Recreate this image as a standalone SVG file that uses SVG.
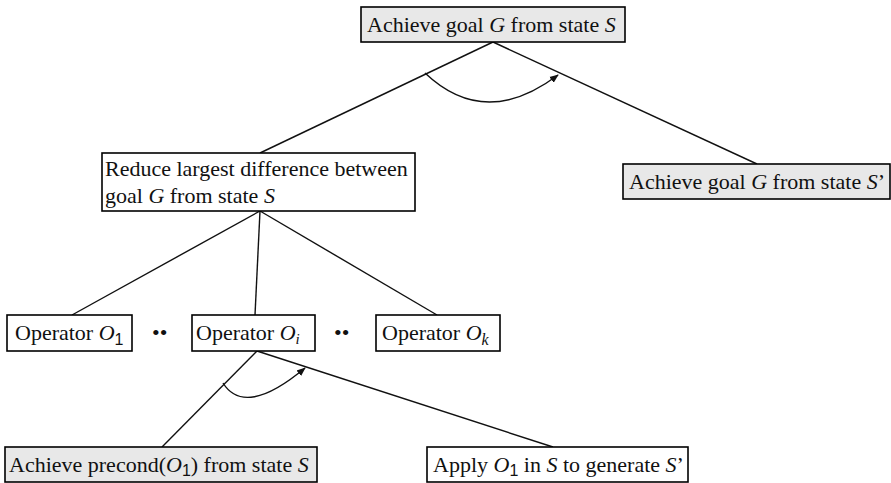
<svg xmlns="http://www.w3.org/2000/svg" width="891" height="483" viewBox="0 0 891 483">
<style>
.box{fill:#fff;stroke:#000;stroke-width:1.6}
.gray{fill:#e8e8e8}
.t{font-family:"Liberation Serif","Times New Roman",serif;font-size:22px;fill:#111}
.i{font-style:italic}
.sub{font-size:16px;font-family:"Liberation Sans",Arial,sans-serif}
.ln{stroke:#111;stroke-width:1.4;fill:none}
</style>
<defs>
<marker id="ah" viewBox="0 0 10 10" refX="9" refY="5" markerWidth="9" markerHeight="9" orient="auto-start-reverse" markerUnits="userSpaceOnUse">
<path d="M0,1 L10,5 L0,9 Z" fill="#111"/>
</marker>
</defs>
<g id="connectors">
<line class="ln" x1="493" y1="42" x2="260" y2="153"/>
<line class="ln" x1="493" y1="42" x2="757" y2="164"/>
<path class="ln" d="M425,73 Q485,130 558,75" marker-end="url(#ah)"/>
<line class="ln" x1="260" y1="211" x2="72" y2="315"/>
<line class="ln" x1="260" y1="211" x2="255" y2="315"/>
<line class="ln" x1="260" y1="211" x2="437" y2="315"/>
<line class="ln" x1="257" y1="351" x2="162" y2="447"/>
<line class="ln" x1="257" y1="351" x2="553" y2="447"/>
<path class="ln" d="M223,383 Q245,418 305,368" marker-end="url(#ah)"/>
</g>
<g id="n-top">
<rect class="box gray" x="361" y="7" width="264" height="35"/>
<text class="t" x="367" y="32">Achieve goal <tspan class="i">G</tspan> from state <tspan class="i">S</tspan></text>
</g>
<g id="n-reduce">
<rect class="box" x="102" y="153" width="313" height="58"/>
<text class="t" x="105" y="176">Reduce largest difference between</text>
<text class="t" x="105" y="203">goal <tspan class="i">G</tspan> from state <tspan class="i">S</tspan></text>
</g>
<g id="n-achieve2">
<rect class="box gray" x="623" y="164" width="267" height="35"/>
<text class="t" x="629" y="189">Achieve goal <tspan class="i">G</tspan> from state <tspan class="i">S</tspan>’</text>
</g>
<g id="n-op1">
<rect class="box" x="7" y="315" width="125" height="36"/>
<text class="t" x="15" y="340">Operator <tspan class="i">O</tspan><tspan class="sub" dy="5">1</tspan></text>
</g>
<g id="n-opi">
<rect class="box" x="192" y="315" width="123" height="36"/>
<text class="t" x="196" y="340">Operator <tspan class="i">O</tspan><tspan class="i" font-size="15" dy="4">i</tspan></text>
</g>
<g id="n-opk">
<rect class="box" x="376" y="315" width="124" height="36"/>
<text class="t" x="382" y="340">Operator <tspan class="i">O</tspan><tspan class="i" font-size="16" dy="5">k</tspan></text>
</g>
<g id="dots">
<text class="t" x="152" y="340">••</text>
<text class="t" x="334" y="340">••</text>
</g>
<g id="n-precond">
<rect class="box gray" x="5" y="447" width="312" height="35"/>
<text class="t" x="9" y="472">Achieve precond(<tspan class="i">O</tspan><tspan class="sub" dy="4">1</tspan><tspan dy="-4">) from state </tspan><tspan class="i">S</tspan></text>
</g>
<g id="n-apply">
<rect class="box" x="427" y="447" width="261" height="35"/>
<text class="t" x="433" y="472">Apply <tspan class="i">O</tspan><tspan class="sub" dy="4">1</tspan><tspan dy="-4"> in </tspan><tspan class="i">S</tspan> to generate <tspan class="i">S</tspan>’</text>
</g>
</svg>
